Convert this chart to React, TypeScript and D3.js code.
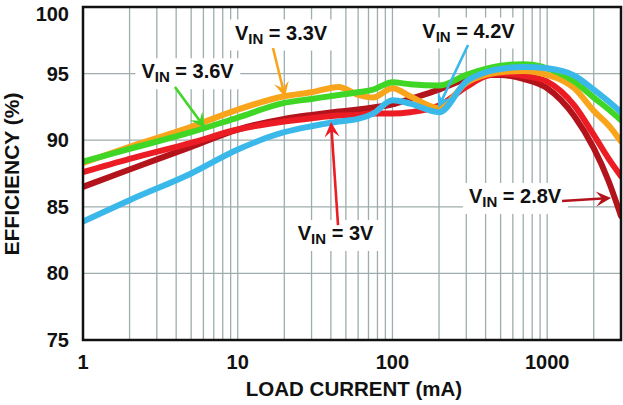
import React, { useEffect, useRef } from "react";
import * as d3 from "d3";

// Load current (mA) sample points shared by all series
const currents = [1, 2, 5, 10, 20, 30, 45, 60, 75, 100, 130, 200, 300, 400, 500, 700, 1000, 1500, 2000, 2500, 3000];
// Efficiency (%) per input voltage
const eff28 = [86.5, 87.8, 89.5, 90.8, 91.6, 91.9, 92.15, 92.3, 92.45, 92.7, 93.1, 93.8, 94.6, 94.9, 94.9, 94.6, 93.9, 91.8, 89.4, 86.9, 84.3];
const eff30 = [87.6, 88.6, 89.8, 90.8, 91.4, 91.65, 91.85, 91.9, 92.0, 92.0, 92.1, 92.6, 94.0, 94.8, 95.0, 94.85, 94.4, 92.6, 90.4, 88.6, 87.3];
const eff33 = [88.3, 89.5, 91.0, 92.3, 93.3, 93.6, 94.0, 93.4, 93.2, 93.9, 93.3, 92.4, 94.3, 94.9, 95.1, 95.2, 94.9, 93.9, 92.2, 91.1, 89.9];
const eff36 = [88.4, 89.35, 90.6, 91.7, 92.8, 93.1, 93.4, 93.6, 93.8, 94.35, 94.2, 94.1, 94.9, 95.35, 95.6, 95.7, 95.4, 94.4, 93.2, 92.3, 91.5];
const eff42 = [83.9, 85.5, 87.5, 89.3, 90.6, 91.05, 91.4, 91.6, 92.0, 93.0, 92.75, 92.1, 94.4, 95.1, 95.35, 95.5, 95.4, 94.85, 93.8, 92.9, 92.1];

const seriesValues = [eff28, eff30, eff33, eff36, eff42];
const seriesColors = ["#b3141c", "#ec1c24", "#f8a51b", "#3fd626", "#3ab8ea"];

const xTickValues = [1, 10, 100, 1000];
const yTickValues = [75, 80, 85, 90, 95, 100];
const yGridValues = [80, 85, 90, 95];

// Annotations (data units): label position, arrow start and end
const labelText = ["3.3V", "3.6V", "4.2V", "3V", "2.8V"];
const labelColor = ["#f8a51b", "#3fd626", "#3ab8ea", "#ec1c24", "#b3141c"];
const labelX = [19.05, 4.74, 310, 42.9, 620];
const labelY = [97.56, 94.65, 97.71, 82.51, 85.29];
const arrowFromX = [16.9, 3.93, 308, 44.5, 1248];
const arrowFromY = [96.92, 93.99, 97.15, 83.63, 85.44];
const arrowToX = [20.2, 6.15, 197.2, 40.1, 2588];
const arrowToY = [93.24, 90.92, 92.42, 91.37, 85.66];

const W = 623;
const H = 405;
const FONT = "'Liberation Sans', Arial, Helvetica, sans-serif";

export default function App() {
  const ref = useRef<SVGSVGElement | null>(null);

  useEffect(() => {
    const svg = d3.select(ref.current);
    svg.selectAll("*").remove();

    const left = 83, right = 621, top = 7, bottom = 340;
    const x = d3.scaleLog().domain([1, 3000]).range([left, right]);
    const y = d3.scaleLinear().domain([75, 100]).range([bottom, top]);

    svg.append("rect").attr("width", W).attr("height", H).attr("fill", "#fff");

    // grid
    const g = svg.append("g");
    const vGrid = x.ticks().filter((v) => v > 1 && v < 3000);
    g.selectAll("line.v")
      .data(vGrid)
      .enter()
      .append("line")
      .attr("x1", (d) => x(d))
      .attr("x2", (d) => x(d))
      .attr("y1", top)
      .attr("y2", bottom)
      .attr("stroke", "#9eadad")
      .attr("stroke-width", 1.3);
    g.selectAll("line.h")
      .data(yGridValues)
      .enter()
      .append("line")
      .attr("x1", left)
      .attr("x2", right)
      .attr("y1", (d) => y(d))
      .attr("y2", (d) => y(d))
      .attr("stroke", "#9eadad")
      .attr("stroke-width", 1.3);

    // clip
    svg
      .append("defs")
      .append("clipPath")
      .attr("id", "plotclip")
      .append("rect")
      .attr("x", left)
      .attr("y", top)
      .attr("width", right - left)
      .attr("height", bottom - top);

    const line = d3
      .line<number>()
      .x((_, i) => x(currents[i]))
      .y((d) => y(d))
      .curve(d3.curveMonotoneX);

    const cg = svg.append("g").attr("clip-path", "url(#plotclip)");
    seriesValues.forEach((vals, i) => {
      cg.append("path")
        .attr("d", line(vals) as string)
        .attr("fill", "none")
        .attr("stroke", seriesColors[i])
        .attr("stroke-width", 6)
        .attr("stroke-linecap", "round")
        .attr("stroke-linejoin", "round");
    });

    // frame
    svg
      .append("rect")
      .attr("x", left)
      .attr("y", top)
      .attr("width", right - left)
      .attr("height", bottom - top)
      .attr("fill", "none")
      .attr("stroke", "#111")
      .attr("stroke-width", 2.5);

    // ticks
    svg
      .selectAll("text.xt")
      .data(xTickValues)
      .enter()
      .append("text")
      .attr("x", (d) => x(d))
      .attr("y", 369)
      .attr("text-anchor", "middle")
      .attr("font-family", FONT)
      .attr("font-weight", "bold")
      .attr("font-size", 20)
      .attr("fill", "#111")
      .text((d) => String(d));
    svg
      .selectAll("text.yt")
      .data(yTickValues)
      .enter()
      .append("text")
      .attr("x", 69)
      .attr("y", (d) => Math.max(y(d) + 7, 21))
      .attr("text-anchor", "end")
      .attr("font-family", FONT)
      .attr("font-weight", "bold")
      .attr("font-size", 20)
      .attr("fill", "#111")
      .text((d) => String(d));

    // axis titles
    svg
      .append("text")
      .attr("x", 354)
      .attr("y", 396)
      .attr("text-anchor", "middle")
      .attr("font-family", FONT)
      .attr("font-weight", "bold")
      .attr("font-size", 20.5)
      .attr("fill", "#111")
      .text("LOAD CURRENT (mA)");
    svg
      .append("text")
      .attr("transform", "translate(18.5,174) rotate(-90)")
      .attr("text-anchor", "middle")
      .attr("font-family", FONT)
      .attr("font-weight", "bold")
      .attr("font-size", 21)
      .attr("fill", "#111")
      .text("EFFICIENCY (%)");

    // annotations
    const ag = svg.append("g");
    labelText.forEach((t, i) => {
      const lx = x(labelX[i]);
      const ly = y(labelY[i]);
      const bg = ag.append("rect").attr("fill", "#fff");
      const txt = ag
        .append("text")
        .attr("x", lx)
        .attr("y", ly)
        .attr("text-anchor", "middle")
        .attr("font-family", FONT)
        .attr("font-weight", "bold")
        .attr("font-size", 20)
        .attr("fill", "#111");
      txt.append("tspan").text("V");
      txt.append("tspan").attr("font-size", 15).attr("dy", 4).text("IN");
      txt.append("tspan").attr("dy", -4).text(" = " + t);
      const bb = (txt.node() as SVGTextElement).getBBox();
      bg.attr("x", bb.x - 6)
        .attr("y", bb.y - 2)
        .attr("width", bb.width + 12)
        .attr("height", bb.height + 6);

      // arrow
      const x1 = x(arrowFromX[i]);
      const y1 = y(arrowFromY[i]);
      const x2 = x(arrowToX[i]);
      const y2 = y(arrowToY[i]);
      const ang = Math.atan2(y2 - y1, x2 - x1);
      const headLen = 15;
      const headW = 7.5;
      const notch = 9;
      const ux = Math.cos(ang), uy = Math.sin(ang);
      const px = -uy, py = ux;
      ag.append("line")
        .attr("x1", x1)
        .attr("y1", y1)
        .attr("x2", x2 - ux * notch)
        .attr("y2", y2 - uy * notch)
        .attr("stroke", labelColor[i])
        .attr("stroke-width", 2.6);
      const pts: [number, number][] = [
        [x2, y2],
        [x2 - ux * headLen + px * headW, y2 - uy * headLen + py * headW],
        [x2 - ux * notch, y2 - uy * notch],
        [x2 - ux * headLen - px * headW, y2 - uy * headLen - py * headW],
      ];
      ag.append("path")
        .attr("d", "M" + pts.map((p) => p.join(",")).join("L") + "Z")
        .attr("fill", labelColor[i]);
    });
  }, []);

  return (
    <svg
      ref={ref}
      width={W}
      height={H}
      style={{ position: "absolute", left: 0, top: 0, display: "block" }}
    />
  );
}
